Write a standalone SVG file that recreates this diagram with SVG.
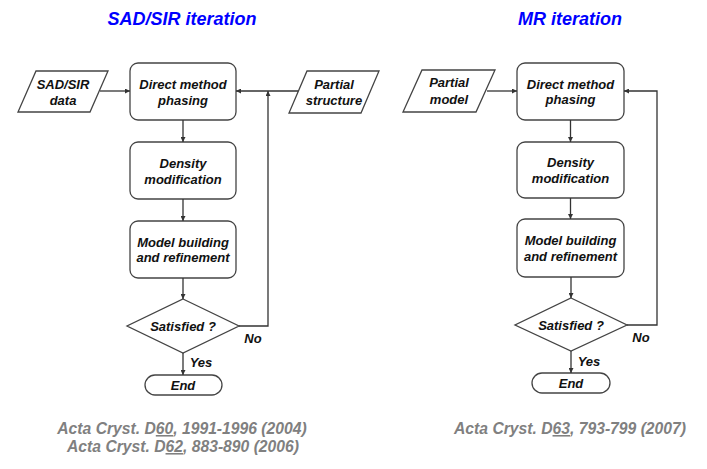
<svg xmlns="http://www.w3.org/2000/svg" width="707" height="469" viewBox="0 0 707 469">
<defs>
<marker id="ah" viewBox="0 0 10 10" refX="10" refY="5" markerWidth="5" markerHeight="5" orient="auto" markerUnits="userSpaceOnUse">
<path d="M0,0 L10,5 L0,10 z" fill="#333"/>
</marker>
<style>
.box{fill:#fff;stroke:#444;stroke-width:1.3}
.t{font-family:"Liberation Sans",Arial,sans-serif;font-weight:bold;font-style:italic;font-size:13px;fill:#111;text-anchor:middle}
.title{font-family:"Liberation Sans",Arial,sans-serif;font-weight:bold;font-style:italic;font-size:18px;fill:#0000ff;text-anchor:middle}
.cite{font-family:"Liberation Sans",Arial,sans-serif;font-weight:bold;font-style:italic;font-size:15.7px;fill:#808080;text-anchor:middle}
.c{fill:none;stroke:#333;stroke-width:1.3}
.ca{fill:none;stroke:#333;stroke-width:1.3;marker-end:url(#ah)}
</style>
</defs>
<rect width="707" height="469" fill="#fff"/>

<text class="title" x="182" y="25">SAD/SIR iteration</text>
<text class="title" x="570" y="25">MR iteration</text>

<!-- Left flowchart -->
<g id="sad-data">
<polygon class="box" points="36,71 108,71 90,112 18,112"/>
<text class="t" x="63" y="88.5">SAD/SIR</text>
<text class="t" x="63" y="104.5">data</text>
</g>
<g id="l-direct">
<rect class="box" x="130" y="63" width="106" height="57" rx="8"/>
<text class="t" x="183" y="88.5">Direct method</text>
<text class="t" x="183" y="104.5">phasing</text>
</g>
<g id="partial-structure">
<polygon class="box" points="307,71 379,71 361,113 289,113"/>
<text class="t" x="334" y="88.5">Partial</text>
<text class="t" x="334" y="104.5">structure</text>
</g>
<g id="l-density">
<rect class="box" x="130" y="142" width="106" height="57" rx="8"/>
<text class="t" x="183" y="167.5">Density</text>
<text class="t" x="183" y="183.5">modification</text>
</g>
<g id="l-model">
<rect class="box" x="130" y="221" width="106" height="57" rx="8"/>
<text class="t" x="183" y="246.5">Model building</text>
<text class="t" x="183" y="261.5">and refinement</text>
</g>
<g id="l-satisfied">
<polygon class="box" points="183,299 239,326 183,353 127,326"/>
<text class="t" x="183" y="331">Satisfied ?</text>
</g>
<g id="l-end">
<rect class="box" x="145" y="375" width="77" height="20" rx="10"/>
<text class="t" x="183" y="390">End</text>
</g>

<!-- Right flowchart -->
<g id="partial-model">
<polygon class="box" points="422,70 495,70 476,112 403,112"/>
<text class="t" x="449" y="87">Partial</text>
<text class="t" x="449" y="103.5">model</text>
</g>
<g id="r-direct">
<rect class="box" x="517" y="63" width="107" height="57" rx="8"/>
<text class="t" x="570.5" y="88.5">Direct method</text>
<text class="t" x="570.5" y="104">phasing</text>
</g>
<g id="r-density">
<rect class="box" x="517" y="142" width="107" height="56" rx="8"/>
<text class="t" x="570.5" y="167">Density</text>
<text class="t" x="570.5" y="183">modification</text>
</g>
<g id="r-model">
<rect class="box" x="517" y="219" width="107" height="58" rx="8"/>
<text class="t" x="570.5" y="245">Model building</text>
<text class="t" x="570.5" y="260.5">and refinement</text>
</g>
<g id="r-satisfied">
<polygon class="box" points="571,298 627,325 571,351 515,325"/>
<text class="t" x="571" y="330">Satisfied ?</text>
</g>
<g id="r-end">
<rect class="box" x="532" y="373" width="78" height="20" rx="10"/>
<text class="t" x="571" y="388">End</text>
</g>

<g id="connectors">
<line class="ca" x1="100" y1="91" x2="130" y2="91"/>
<line class="ca" x1="298" y1="91" x2="236" y2="91"/>
<line class="ca" x1="183" y1="120" x2="183" y2="142"/>
<line class="ca" x1="183" y1="199" x2="183" y2="221"/>
<line class="ca" x1="183" y1="278" x2="183" y2="299"/>
<line class="ca" x1="183" y1="353" x2="183" y2="375"/>
<polyline class="ca" points="239,326 268,326 268,91"/>
<text class="t" x="253" y="343">No</text>
<text class="t" x="201" y="367">Yes</text>

<line class="ca" x1="487" y1="91" x2="517" y2="91"/>
<line class="ca" x1="570.5" y1="120" x2="570.5" y2="142"/>
<line class="ca" x1="570.5" y1="198" x2="570.5" y2="219"/>
<line class="ca" x1="571" y1="277" x2="571" y2="298"/>
<line class="ca" x1="571" y1="351" x2="571" y2="373"/>
<polyline class="ca" points="627,325 657,325 657,91 624,91"/>
<text class="t" x="641" y="342">No</text>
<text class="t" x="589" y="366">Yes</text>
</g>

<g id="citations">
<text class="cite" x="182" y="434">Acta Cryst. D<tspan text-decoration="underline">60</tspan>, 1991-1996 (2004)</text>
<text class="cite" x="183" y="452">Acta Cryst. D<tspan text-decoration="underline">62</tspan>, 883-890 (2006)</text>
<text class="cite" x="570" y="434">Acta Cryst. D<tspan text-decoration="underline">63</tspan>, 793-799 (2007)</text>
</g>
</svg>
